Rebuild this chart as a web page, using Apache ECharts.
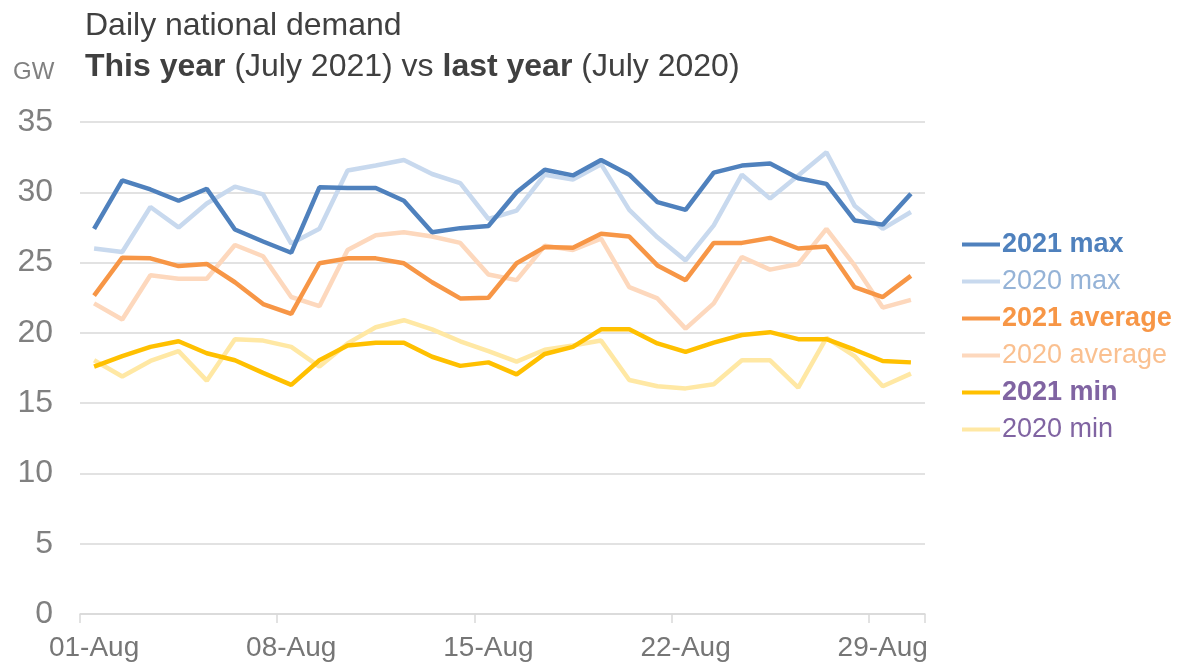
<!DOCTYPE html>
<html>
<head>
<meta charset="utf-8">
<script src="https://cdn.jsdelivr.net/npm/echarts@6/dist/echarts.min.js"></script>
<style>
  html, body { margin: 0; padding: 0; background: #ffffff; }
  #chart { width: 1191px; height: 667px; }
</style>
</head>
<body>
<div id="chart"></div>
<script>
// Days of August shown on the axis
const days = [];
for (let d = 1; d <= 30; d++) {
    days.push((d < 10 ? '0' + d : '' + d) + '-Aug');
}

// Values, GW
const max2021 = [27.4, 30.85, 30.2, 29.4, 30.25, 27.35, 26.5, 25.7, 30.35, 30.3, 30.3, 29.4, 27.15, 27.45, 27.6, 30.0, 31.6, 31.2, 32.3, 31.25, 29.3, 28.75, 31.4, 31.9, 32.05, 31.0, 30.6, 28.0, 27.7, 29.9];
const max2020 = [26.0, 25.75, 28.95, 27.5, 29.2, 30.4, 29.85, 26.35, 27.4, 31.55, 31.9, 32.3, 31.3, 30.65, 28.1, 28.7, 31.25, 30.9, 32.0, 28.75, 26.8, 25.15, 27.65, 31.25, 29.55, 31.2, 32.85, 29.05, 27.4, 28.6];
const avg2021 = [22.65, 25.35, 25.3, 24.75, 24.9, 23.6, 22.05, 21.35, 24.95, 25.3, 25.3, 24.95, 23.6, 22.45, 22.5, 24.95, 26.1, 26.05, 27.05, 26.85, 24.8, 23.75, 26.4, 26.4, 26.75, 26.0, 26.15, 23.25, 22.55, 24.05];
const avg2020 = [22.1, 20.95, 24.1, 23.85, 23.85, 26.25, 25.45, 22.55, 21.9, 25.9, 26.95, 27.15, 26.85, 26.4, 24.15, 23.75, 26.2, 25.9, 26.7, 23.25, 22.45, 20.3, 22.1, 25.4, 24.5, 24.9, 27.4, 24.8, 21.8, 22.35];
const min2021 = [17.6, 18.35, 19.0, 19.4, 18.55, 18.05, 17.15, 16.3, 18.05, 19.1, 19.3, 19.3, 18.3, 17.65, 17.9, 17.05, 18.5, 19.0, 20.25, 20.25, 19.25, 18.65, 19.3, 19.85, 20.05, 19.55, 19.55, 18.8, 18.0, 17.9];
const min2020 = [18.05, 16.9, 18.0, 18.7, 16.6, 19.55, 19.45, 19.0, 17.6, 19.25, 20.4, 20.9, 20.25, 19.4, 18.7, 17.95, 18.8, 19.1, 19.45, 16.65, 16.2, 16.05, 16.35, 18.05, 18.05, 16.1, 19.65, 18.35, 16.2, 17.1];

const seriesNames = ['2021 max', '2020 max', '2021 average', '2020 average', '2021 min', '2020 min'];
const seriesValues = [max2021, max2020, avg2021, avg2020, min2021, min2020];

// line colour, legend text colour, bold text
const lineColors = ['#4f81bd', '#c8d9ee', '#f79646', '#fdd8bd', '#ffc000', '#ffe8a4'];
const textColors = ['#4f81bd', '#95b3d7', '#f79646', '#fac090', '#8064a2', '#8064a2'];
const boldText = [true, false, true, false, true, false];

const font = 'Liberation Sans, Arial, sans-serif';

const chart = echarts.init(document.getElementById('chart'));

// 2020 lines are drawn first so the 2021 lines sit on top
const drawOrder = [1, 3, 5, 0, 2, 4];
const series = drawOrder.map(i => ({
    name: seriesNames[i],
    type: 'line',
    data: seriesValues[i],
    symbol: 'none',
    color: lineColors[i],
    lineStyle: { color: lineColors[i], width: 4.5 },
    emphasis: { disabled: true }
}));

const legendData = seriesNames.map((name, i) => ({
    name: name,
    textStyle: {
        color: textColors[i],
        fontWeight: boldText[i] ? 'bold' : 'normal'
    }
}));

chart.setOption({
    animation: false,
    backgroundColor: '#ffffff',
    textStyle: { fontFamily: font },
    title: [
        {
            text: 'Daily national demand',
            left: 80,
            top: 5,
            textStyle: { fontFamily: font, fontSize: 32, fontWeight: 'normal', color: '#404040' }
        },
        {
            text: '{b|This year} (July 2021) vs {b|last year} (July 2020)',
            left: 80,
            top: 46,
            textStyle: {
                fontFamily: font, fontSize: 32, fontWeight: 'normal', color: '#404040',
                rich: {
                    b: { fontFamily: font, fontSize: 32, fontWeight: 'bold', color: '#404040' }
                }
            }
        },
        {
            text: 'GW',
            left: 8,
            top: 55,
            textStyle: { fontFamily: font, fontSize: 24, fontWeight: 'normal', color: '#808080' }
        }
    ],
    legend: {
        data: legendData,
        orient: 'vertical',
        left: 957,
        top: 226,
        itemWidth: 38,
        itemHeight: 4,
        itemGap: 10,
        icon: 'rect',
        selectedMode: false,
        textStyle: { fontFamily: font, fontSize: 27, lineHeight: 27, padding: [0, 0, 0, -3] }
    },
    grid: {
        left: 80,
        right: 266,
        top: 122,
        bottom: 53,
        containLabel: false
    },
    xAxis: {
        type: 'category',
        data: days,
        boundaryGap: true,
        axisLine: { show: true, lineStyle: { color: '#d9d9d9', width: 1.5 } },
        axisTick: { show: true, interval: 6, length: 9, lineStyle: { color: '#d9d9d9', width: 1.5 } },
        axisLabel: {
            interval: 6,
            margin: 20,
            fontFamily: font,
            fontSize: 28,
            color: '#767676'
        },
        splitLine: { show: false }
    },
    yAxis: {
        type: 'value',
        min: 0,
        max: 35,
        interval: 5,
        axisLine: { show: false },
        axisTick: { show: false },
        axisLabel: {
            margin: 27,
            fontFamily: font,
            fontSize: 32,
            color: '#808080'
        },
        splitLine: { lineStyle: { color: '#d9d9d9', width: 1.5 } }
    },
    series: series
});
</script>
</body>
</html>
